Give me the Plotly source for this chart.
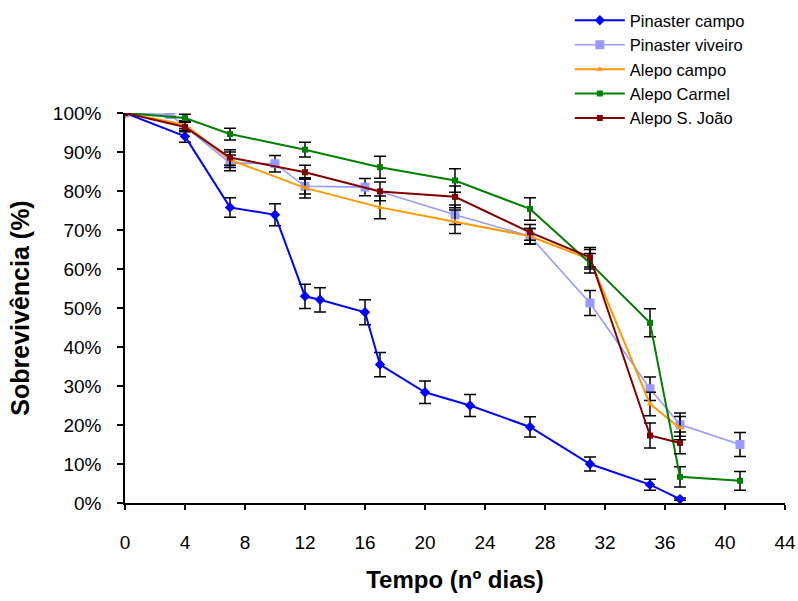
import plotly.graph_objects as go

# Pinaster campo
pc_x = [0, 4, 7, 10, 12, 13, 16, 17, 20, 23, 27, 31, 35, 37]
pc_y = [100, 94.0, 75.8, 73.9, 53.0, 52.1, 48.9, 35.5, 28.4, 25.0, 19.5, 10.0, 4.7, 1.0]
pc_e = [0.5, 1.5, 2.5, 2.8, 3.1, 3.1, 3.2, 3.1, 2.9, 2.8, 2.6, 1.8, 1.4, 0.3]

# Pinaster viveiro
pv_x = [0, 3, 7, 10, 12, 16, 22, 27, 31, 35, 37, 41]
pv_y = [100, 99.6, 87.2, 87.0, 81.2, 81.0, 73.9, 68.4, 51.3, 29.3, 20.1, 15.0]
pv_e = [0.3, 0.5, 2.0, 2.1, 2.0, 2.2, 2.5, 2.0, 3.2, 3.0, 3.0, 3.1]

# Alepo campo
ac_x = [0, 4, 7, 12, 17, 22, 27, 31, 35, 37]
ac_y = [100, 97.0, 88.0, 80.8, 75.8, 72.1, 68.4, 62.5, 25.4, 19.2]
ac_e = [0.3, 1.0, 2.0, 2.6, 2.9, 3.0, 2.0, 2.5, 3.0, 3.0]

# Alepo Carmel
am_x = [0, 4, 7, 12, 17, 22, 27, 31, 35, 37, 41]
am_y = [100, 98.7, 94.6, 90.6, 86.1, 82.7, 75.4, 61.5, 46.2, 6.7, 5.7]
am_e = [0.3, 1.0, 1.5, 1.9, 2.8, 3.0, 2.9, 2.5, 3.6, 2.6, 2.4]

# Alepo S. João
aj_x = [0, 4, 7, 12, 17, 22, 27, 31, 35, 37]
aj_y = [100, 96.4, 88.6, 84.8, 79.9, 78.5, 69.4, 63.0, 17.3, 15.4]
aj_e = [0.3, 1.2, 2.0, 1.8, 2.4, 2.8, 2.0, 2.5, 3.2, 2.8]

x_ticks = [0, 4, 8, 12, 16, 20, 24, 28, 32, 36, 40, 44]
y_ticks = [0, 10, 20, 30, 40, 50, 60, 70, 80, 90, 100]
y_tick_labels = [f"{v}%" for v in y_ticks]

series = [
    ("Pinaster campo", pc_x, pc_y, pc_e, "#0000FF", "diamond", 8, 2),
    ("Pinaster viveiro", pv_x, pv_y, pv_e, "#9999FF", "square", 9, 1.6),
    ("Alepo campo", ac_x, ac_y, ac_e, "#FF9900", "triangle-up", 6, 2),
    ("Alepo Carmel", am_x, am_y, am_e, "#008000", "square", 6, 2),
    ("Alepo S. João", aj_x, aj_y, aj_e, "#800000", "square", 6, 2),
]

fig = go.Figure()
for i, (name, xs, ys, es, col, sym, ms, lw) in enumerate(series):
    fig.add_trace(go.Scatter(
        x=xs, y=ys, name=name, mode="lines+markers",
        line=dict(color=col, width=lw),
        marker=dict(color=col, symbol=sym, size=ms),
        error_y=dict(type="data", array=es, visible=True, color="black",
                     thickness=1.5, width=6),
    ))

W, H = 798, 601
m_l, m_r, m_t, m_b = 125, 13, 113, 98
plot_h = H - m_t - m_b

font_family = "Liberation Sans, Arial, sans-serif"
fig.update_layout(
    width=W, height=H,
    margin=dict(l=m_l, r=m_r, t=m_t, b=m_b, autoexpand=False),
    paper_bgcolor="white", plot_bgcolor="white",
    font=dict(family=font_family, size=18, color="black"),
    showlegend=True,
    legend=dict(
        x=0.674, y=1 + (m_t - 3) / plot_h, xanchor="left", yanchor="top",
        font=dict(size=16.5, color="black"),
        bgcolor="rgba(0,0,0,0)",
        itemwidth=50,
    ),
    xaxis=dict(
        range=[0, 44], tickvals=x_ticks, ticktext=[str(v) for v in x_ticks],
        showgrid=False, zeroline=False, showline=True, linecolor="black",
        linewidth=1.5, ticks="outside", ticklen=5, tickcolor="black",
        tickwidth=1.5, ticklabelstandoff=16,
        tickfont=dict(size=19),
        title=dict(text="<b>Tempo (nº dias)</b>", font=dict(size=24), standoff=20),
    ),
    yaxis=dict(
        range=[0, 100], tickvals=y_ticks, ticktext=y_tick_labels,
        showgrid=False, zeroline=False, showline=True, linecolor="black",
        linewidth=1.5, ticks="outside", ticklen=6, tickcolor="black",
        tickwidth=1.5, ticklabelstandoff=12,
        tickfont=dict(size=19),
        title=dict(text="<b>Sobrevivência (%)</b>", font=dict(size=25), standoff=16),
    ),
)

fig.write_html("out.html")
